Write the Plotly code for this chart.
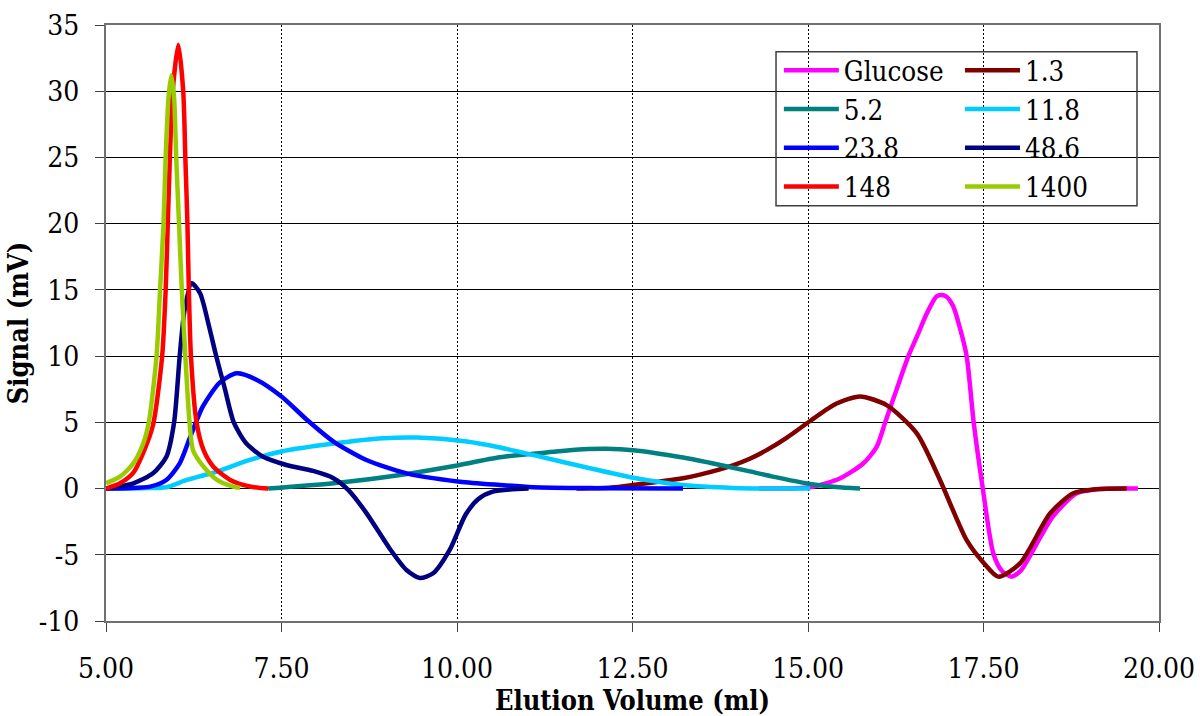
import plotly.graph_objects as go

# ---- data ----
series_names = ["Glucose", "1.3", "5.2", "11.8", "23.8", "48.6", "148", "1400"]
series_colors = ["#FF00FF", "#800000", "#008080", "#00CCFF", "#0000FF", "#000080", "#FF0000", "#99CC00"]

glucose_x = [14.30, 15.03, 15.46, 15.79, 15.98, 16.10, 16.26, 16.43, 16.57, 16.69, 16.83, 16.90, 16.97, 17.07, 17.16, 17.26, 17.36, 17.49, 17.64, 17.76, 17.90, 18.03, 18.16, 18.49, 18.83, 19.20, 19.70]
glucose_y = [0.0, 0.1, 0.78, 1.91, 3.17, 5.0, 7.45, 10.0, 11.7, 13.2, 14.5, 14.62, 14.5, 13.74, 12.2, 10.0, 5.0, 0.0, -4.9, -6.2, -6.65, -6.2, -5.1, -2.1, -0.36, -0.03, 0.0]

s13_x = [11.70, 12.20, 12.51, 13.22, 13.46, 13.93, 14.17, 14.41, 14.70, 15.03, 15.40, 15.74, 16.12, 16.55, 16.88, 17.26, 17.50, 17.71, 18.02, 18.45, 18.78, 19.10, 19.54]
s13_y = [0.0, 0.08, 0.27, 0.78, 1.05, 1.75, 2.25, 2.9, 3.85, 5.1, 6.4, 6.95, 6.3, 4.17, 0.65, -3.9, -5.6, -6.65, -5.65, -1.87, -0.36, -0.05, 0.0]

s52_x = [7.31, 8.24, 9.19, 9.90, 10.61, 11.04, 11.60, 12.13, 12.51, 13.22, 13.60, 14.17, 14.50, 15.03, 15.40, 15.74]
s52_y = [0.0, 0.4, 1.03, 1.65, 2.36, 2.6, 2.9, 3.0, 2.9, 2.35, 1.95, 1.3, 0.9, 0.35, 0.12, 0.0]

s118_x = [5.00, 5.50, 5.86, 6.15, 6.58, 7.05, 7.50, 8.24, 8.95, 9.43, 10.14, 10.61, 11.08, 11.80, 12.51, 13.22, 13.93, 14.50, 15.03]
s118_y = [0.0, 0.03, 0.1, 0.65, 1.28, 2.16, 2.8, 3.4, 3.8, 3.85, 3.55, 3.1, 2.54, 1.65, 0.82, 0.27, 0.05, 0.0, 0.0]

s238_x = [5.00, 5.30, 5.63, 5.86, 6.05, 6.20, 6.38, 6.62, 6.86, 7.15, 7.50, 7.86, 8.24, 8.71, 9.28, 10.04, 10.61, 11.08, 12.00, 13.22]
s238_y = [0.0, 0.03, 0.15, 0.65, 1.9, 3.9, 6.2, 8.0, 8.7, 8.2, 6.95, 5.2, 3.55, 2.16, 1.15, 0.52, 0.27, 0.1, 0.03, 0.0]

s486_x = [5.00, 5.39, 5.67, 5.86, 5.97, 6.05, 6.12, 6.22, 6.34, 6.47, 6.57, 6.69, 6.82, 7.00, 7.24, 7.57, 7.95, 8.24, 8.45, 8.71, 9.05, 9.28, 9.47, 9.66, 9.90, 10.12, 10.30, 10.51, 11.02]
s486_y = [0.0, 0.4, 1.15, 2.4, 5.0, 10.0, 13.5, 15.5, 14.75, 12.2, 10.0, 7.6, 5.0, 3.4, 2.4, 1.78, 1.33, 0.78, -0.1, -1.85, -4.6, -6.15, -6.75, -6.4, -4.6, -2.0, -0.8, -0.23, 0.0]

s148_x = [5.00, 5.20, 5.39, 5.53, 5.67, 5.80, 5.85, 5.88, 5.91, 5.95, 6.03, 6.10, 6.13, 6.16, 6.18, 6.21, 6.29, 6.39, 6.53, 6.77, 7.05, 7.31]
s148_y = [0.0, 0.4, 1.2, 2.7, 4.8, 10.0, 15.0, 20.0, 25.0, 30.0, 33.5, 30.0, 25.0, 20.0, 15.0, 10.0, 5.0, 2.9, 1.65, 0.65, 0.15, 0.0]

s1400_x = [5.00, 5.20, 5.39, 5.53, 5.61, 5.72, 5.77, 5.82, 5.85, 5.89, 5.93, 5.97, 6.00, 6.04, 6.08, 6.13, 6.19, 6.24, 6.39, 6.58, 6.81, 6.91]
s1400_y = [0.4, 0.9, 1.9, 3.4, 5.0, 10.0, 15.0, 20.0, 25.0, 29.5, 31.2, 29.5, 25.0, 20.0, 15.0, 10.0, 5.0, 2.9, 1.65, 0.65, 0.15, 0.05]

series_x = [glucose_x, s13_x, s52_x, s118_x, s238_x, s486_x, s148_x, s1400_x]
series_y = [glucose_y, s13_y, s52_y, s118_y, s238_y, s486_y, s148_y, s1400_y]

x_ticks = [5.0, 7.5, 10.0, 12.5, 15.0, 17.5, 20.0]
x_tick_labels = ["5.00", "7.50", "10.00", "12.50", "15.00", "17.50", "20.00"]
y_ticks = [-10, -5, 0, 5, 10, 15, 20, 25, 30, 35]
y_tick_labels = ["-10", "-5", "0", "5", "10", "15", "20", "25", "30", "35"]

FONT = "DejaVu Serif Condensed, DejaVu Serif"

fig = go.Figure()
for i, (name, color, xs, ys) in enumerate(zip(series_names, series_colors, series_x, series_y)):
    fig.add_trace(go.Scatter(
        x=xs, y=ys, name=name, mode="lines",
        line=dict(color=color, width=4.5, shape="spline", smoothing=0.7),
        legend="legend" if i % 2 == 0 else "legend2",
    ))

legend_common = dict(
    bgcolor="rgba(0,0,0,0)", borderwidth=0,
    font=dict(family=FONT, size=27.5, color="black"),
    orientation="v", xanchor="left", yanchor="top",
    itemwidth=55, tracegroupgap=0,
)

fig.update_layout(
    width=1200, height=716,
    margin=dict(l=106, r=41, t=25, b=95, autoexpand=False),
    paper_bgcolor="white", plot_bgcolor="white",
    font=dict(family=FONT, size=27, color="black"),
    showlegend=True,
    legend=dict(x=0.639, y=0.965, **legend_common),
    legend2=dict(x=0.811, y=0.965, **legend_common),
    shapes=[dict(type="rect", xref="paper", yref="paper",
                 x0=0.6363, x1=0.9791, y0=0.6968, y1=0.9552,
                 line=dict(color="#404040", width=1.5), fillcolor="rgba(0,0,0,0)")],
    xaxis=dict(
        range=[5, 20], tickvals=x_ticks, ticktext=x_tick_labels, automargin=False,
        showgrid=True, gridcolor="black", gridwidth=1, griddash="2px,2px",
        zeroline=False, showline=True, linecolor="#707070", linewidth=2, mirror=True,
        ticks="outside", ticklen=9, tickcolor="#404040", tickwidth=1,
        ticklabelstandoff=12,
        tickfont=dict(family=FONT, size=28, color="black"),
        title=dict(text="<b>Elution Volume (ml)</b>", font=dict(family=FONT, size=27, color="black"), standoff=10),
    ),
    yaxis=dict(
        range=[-10, 35], tickvals=y_ticks, ticktext=y_tick_labels, automargin=False,
        showgrid=True, gridcolor="black", gridwidth=1,
        zeroline=False, showline=True, linecolor="#707070", linewidth=2, mirror=True,
        ticks="outside", ticklen=9, tickcolor="#404040", tickwidth=1,
        ticklabelstandoff=10,
        tickfont=dict(family=FONT, size=28, color="black"),
        title=dict(text="<b>Signal (mV)</b>", font=dict(family=FONT, size=27, color="black"), standoff=2),
    ),
)

fig.write_html("out.html")
